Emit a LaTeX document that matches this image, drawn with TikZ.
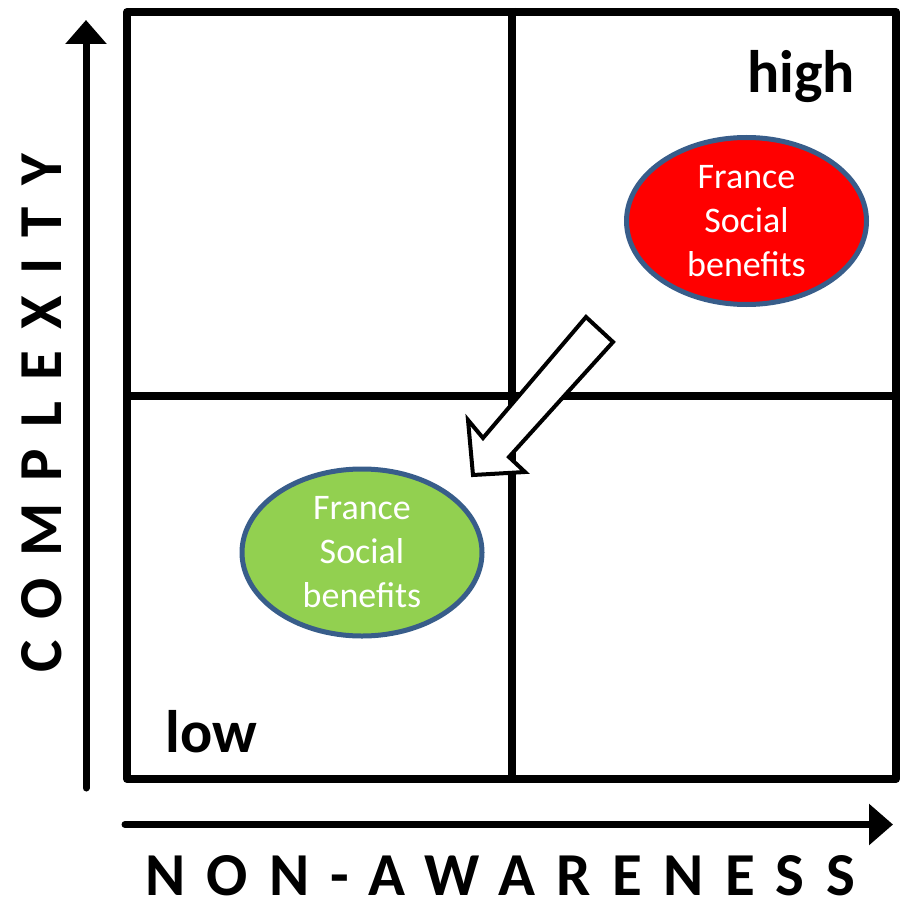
\documentclass[tikz,border=0pt]{standalone}
\usepackage{fontspec}
\setmainfont{Carlito}
\usetikzlibrary{shapes.geometric, positioning, arrows.meta}
\definecolor{hotred}{RGB}{255,0,0}
\definecolor{leafgreen}{RGB}{146,208,80}
\definecolor{rim}{RGB}{56,93,138}

\begin{document}
\begin{tikzpicture}[x=1pt, y=-1pt,
  frameline/.style = {line width=8pt},
  axisline/.style = {line width=7pt, line cap=round, -{Triangle[length=24pt, width=40pt]}},
  field/.style = {ellipse, draw=rim, line width=5pt, minimum width=240pt,
    minimum height=167pt, inner sep=0pt, text=white, align=center,
    font=\fontsize{36}{44}\selectfont},
  axislabel/.style = {inner sep=0pt, font=\fontsize{61}{61}\selectfont\bfseries\addfontfeature{LetterSpace=35}},
  corner/.style = {font=\fontsize{60}{60}\selectfont\bfseries},
  hollow/.style = {draw, fill=white, line width=4pt}]

  \useasboundingbox (0,0) rectangle (903,904);

  % quadrant frame
  \node[draw, frameline, line join=round, minimum width=769pt, minimum height=767pt] (frame) at (511.5,395.5) {};
  \draw[frameline] (frame.north) -- (frame.south);
  \draw[frameline] (frame.west) -- (frame.east);

  % axes
  \coordinate (ybot) at (86,788);
  \coordinate (ytop) at (86,20);
  \coordinate (xleft) at (125,824.5);
  \coordinate (xright) at (893,824.5);
  \draw[axisline] (ybot) -- (ytop);
  \draw[axisline] (xleft) -- (xright);

  \node[axislabel, rotate=90] (complexity) at (42,413) {COMPLEXITY};
  \node[axislabel] (nonaware) at (500,876) {NON-AWARENESS};

  \node[corner, anchor=base] (high) at (801,93) {high};
  \node[corner, anchor=base] (low) at (211.5,752) {low};

  % before / after
  \node[field, fill=hotred] (before) at (746.5,221) {France\\Social\\benefits};
  \node[field, fill=leafgreen] (after) at (362,552.5) {France\\Social\\benefits};

  \draw[hollow] (586,317) -- (613,342) -- (509,457) -- (525,472) -- (473,475)
    -- (468,420) -- (483,438) -- cycle;
\end{tikzpicture}
\end{document}
